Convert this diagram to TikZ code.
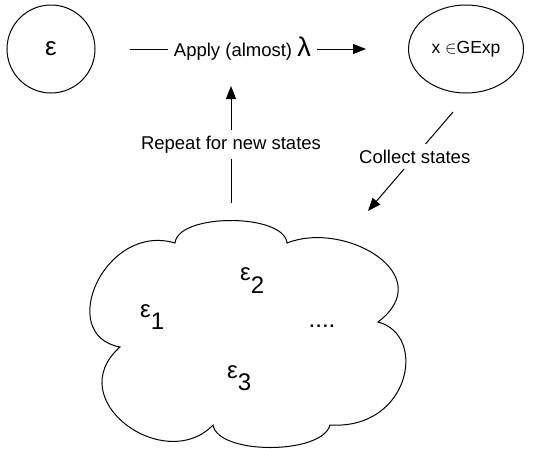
\documentclass[tikz,border=0pt]{standalone}
\usepackage{fontspec}
\setmainfont{Liberation Sans}
\usetikzlibrary{arrows.meta,shapes.geometric}
\tikzset{
  arr/.style={line width=1pt,-{Triangle[length=13pt,width=10pt]}},
  lbl/.style={font=\fontsize{18.5}{22}\selectfont, fill=white, inner sep=6pt},
  big/.style={font=\fontsize{24}{28}\selectfont, inner sep=0pt},
  shapeline/.style={draw, line width=1pt}
}
\begin{document}
\begin{tikzpicture}[x=1pt,y=-1pt]
\useasboundingbox (0,0) rectangle (534,448);
% top nodes
\node[shapeline, circle, minimum size=88pt, inner sep=0pt,
      font=\fontsize{26}{28}\selectfont] (eps) at (51,49) {ε};
\node[shapeline, ellipse, minimum width=115pt, minimum height=88pt, inner sep=0pt,
      font=\fontsize{17.5}{20}\selectfont] (gexp) at (466,49) {x $\in$GExp};
% top arrow with label
\draw[arr, shorten <=34pt, shorten >=42pt] (eps) --
  node[lbl, pos=0.47] (apply) {Apply (almost) {\fontsize{27}{30}\selectfont λ}} (gexp);
% vertical arrow
\coordinate (rbot) at (231,203);
\coordinate (rtop) at (231,86);
\draw[arr] (rbot) -- node[lbl, pos=0.5] (repeat) {Repeat for new states} (rtop);
% diagonal arrow
\coordinate (cstart) at (453,112);
\coordinate (cend) at (368,211);
\draw[arr] (cstart) -- node[lbl, pos=0.45] (collect) {Collect states} (cend);
% cloud
\draw[line width=1pt]
  (175,243) .. controls (178,213) and (284,213) .. (287,243)
            .. controls (345,220) and (440,275) .. (378,322)
            .. controls (428,335) and (410,430) .. (330,425)
            .. controls (322,455) and (218,455) .. (213,425)
            .. controls (165,475) and (60,400) .. (120,347)
            .. controls (55,335) and (105,222) .. (175,243) -- cycle;
\node[big, anchor=base west] (e1) at (140,317) {ε\raisebox{-12pt}{1}};
\node[big, anchor=base west] (e2) at (240,280) {ε\raisebox{-13pt}{2}};
\node[big, anchor=base west] (e3) at (227,378) {ε\raisebox{-12pt}{3}};
\node[big, anchor=base] (dots) at (322,327) {....};
\end{tikzpicture}
\end{document}
